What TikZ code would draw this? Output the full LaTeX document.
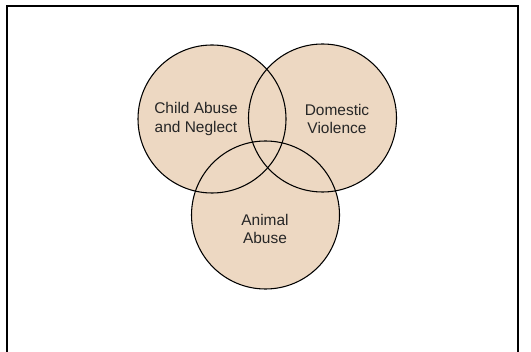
\documentclass[tikz,border=0pt]{standalone}
\usepackage{fontspec}
\setmainfont{Liberation Sans}
\usetikzlibrary{shapes}

\begin{document}
\begin{tikzpicture}[x=0.75pt, y=-0.75pt]
		\tikzstyle {venn fill} = [fill={rgb,255:red,237;green,216;blue,194}]
		\tikzstyle {venn line} = [draw, circle, line width=0.8pt, inner sep=0pt, minimum size=111pt]
		\tikzstyle {venn label} = [align=center, font=\fontsize{11.6}{14.2}\selectfont, text=black!85]

		\useasboundingbox (0,0) rectangle (531,352);
		\draw[line width=1.6pt] (7,380) -- (7,6) -- (518,6) -- (518,380);

		\fill[venn fill] (212,119) circle (74);
		\fill[venn fill] (322.5,118) circle (74);
		\fill[venn fill] (265.5,215) circle (74);

		\node[venn line] (child) at (212,119) {};
		\node[venn line] (domestic) at (322.5,118) {};
		\node[venn line] (animal) at (265.5,215) {};

		\node[venn label] (childtext) at (196,119) {Child Abuse\\and Neglect};
		\node[venn label] (domestictext) at (337,119) {Domestic\\Violence};
		\node[venn label] (animaltext) at (265,229) {Animal\\Abuse};
	\end{tikzpicture}
\end{document}
